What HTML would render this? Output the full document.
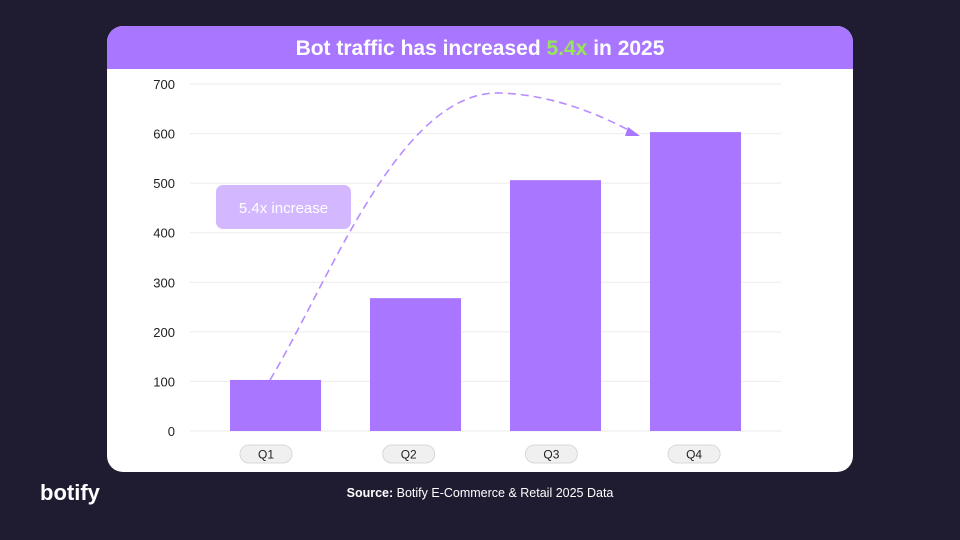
<!DOCTYPE html>
<html><head><meta charset="utf-8"><style>
html,body{margin:0;padding:0;background:#1f1b30;width:960px;height:540px;overflow:hidden;font-family:"Liberation Sans",sans-serif}
</style></head><body>
<svg width="960" height="540" xmlns="http://www.w3.org/2000/svg">
<rect x="0" y="0" width="960" height="540" fill="#1f1b30"/>
<g>
<rect x="107" y="26" width="746" height="446" rx="16" fill="#ffffff"/>
<path d="M107,69 V42 A16,16 0 0 1 123,26 H837 A16,16 0 0 1 853,42 V69 Z" fill="#a977ff"/>
<text x="480" y="55" text-anchor="middle" font-size="21" font-weight="bold" fill="#ffffff">Bot traffic has increased <tspan fill="#9be35a">5.4x</tspan> in 2025</text>
</g>
<g id="grid"></g>
<g id="yticks"></g>
<g id="bars"></g>
<g id="xticks"></g>
<g>
<path d="M270,380 C330,280 400,90 500,93 C560,95 610,120 636,134" fill="none" stroke="#b88cff" stroke-width="1.6" stroke-dasharray="8,5"/>
<polygon points="640,136 628,127 625,136" fill="#a977ff"/>
<rect x="216" y="185" width="135" height="44" rx="7" fill="#d4b8ff"/>
<text x="283.5" y="213" text-anchor="middle" font-size="15" fill="#ffffff">5.4x increase</text>
</g>
<text x="40" y="500" font-size="22" font-weight="bold" fill="#ffffff">botify</text>
<text x="480" y="497" text-anchor="middle" font-size="12.5" fill="#ffffff"><tspan font-weight="bold">Source:</tspan> Botify E-Commerce &amp; Retail 2025 Data</text>
</svg>
<script>
const categories = ["Q1","Q2","Q3","Q4"];
const values = [103, 268, 506, 603];
const yTicks = [0,100,200,300,400,500,600,700];
const NS="http://www.w3.org/2000/svg";
function y(v){return 431 - v*(347/700);}
function xc(i){return 275.5 + i*140;}
function xl(i){return 266 + i*142.7;}
const bw=91;
function mk(tag,attrs,parent){const e=document.createElementNS(NS,tag);for(const k in attrs)e.setAttribute(k,attrs[k]);parent.appendChild(e);return e;}
const grid=document.getElementById('grid'),yt=document.getElementById('yticks'),bars=document.getElementById('bars'),xt=document.getElementById('xticks');
yTicks.forEach(t=>{
  const l=mk('line',{x1:190,x2:781,y1:y(t),y2:y(t),stroke:'#ebebeb','stroke-width':1},grid);
  
  
  const tx=mk('text',{x:175,y:y(t)+5,'text-anchor':'end','font-size':13,fill:'#222'},yt);
  tx.textContent=t;
  
  
});
categories.forEach((c,i)=>{
  const r=mk('rect',{x:xc(i)-bw/2,y:y(values[i]),width:bw,height:431-y(values[i]),fill:'#a977ff'},bars);
  
  
  const p=mk('rect',{x:xl(i)-26,y:445,width:52,height:18,rx:9,fill:'#f0f0f0',stroke:'#d8d8d8','stroke-width':1},xt);
  
  
  const t=mk('text',{x:xl(i),y:458.5,'text-anchor':'middle','font-size':12,fill:'#222'},xt);
  t.textContent=c;
  
  
});
</script>
</body></html>
